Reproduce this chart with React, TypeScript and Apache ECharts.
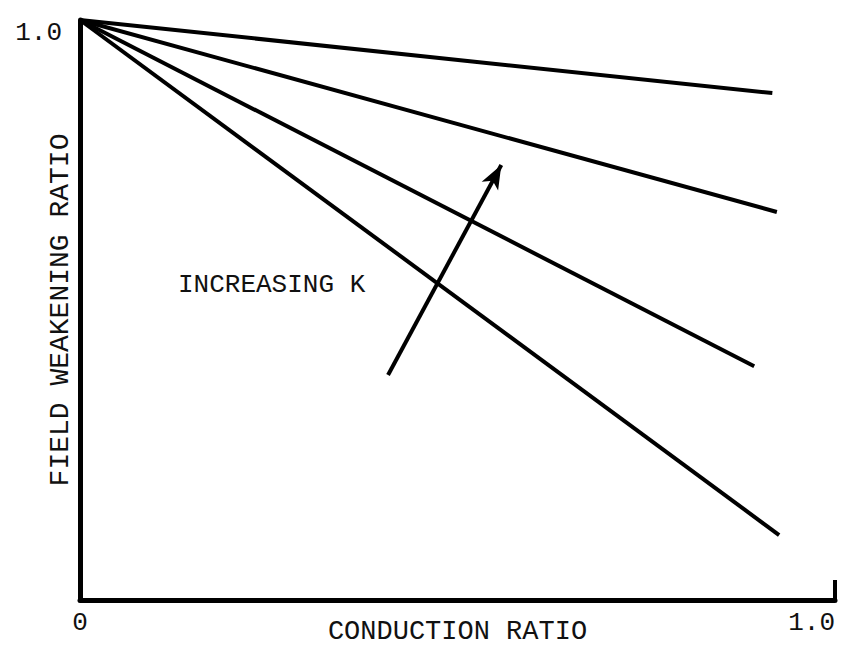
import React, { useEffect, useRef } from "react";
import * as echarts from "echarts";

const xRange = [0, 1];
const yRange = [0, 1];
const xTickLabels = ["0", "1.0"];
const yTickLabels = ["", "1.0"];
const lineStart = [0, 1];
const lineEndsX = [0.917, 0.923, 0.893, 0.926];
const lineEndsY = [0.874, 0.669, 0.403, 0.112];
const arrowFrom = [0.408, 0.388];
const arrowTo = [0.558, 0.75];
const xAxisTitle = "CONDUCTION RATIO";
const yAxisTitle = "FIELD WEAKENING RATIO";
const annotation = "INCREASING K";

const FONT = "'Liberation Mono', 'DejaVu Sans Mono', monospace";

export default function App() {
  const ref = useRef<HTMLDivElement>(null);
  useEffect(() => {
    document.body.style.margin = "0";
    const chart = echarts.init(ref.current!, null, { renderer: "svg" });
    const lineSeries = lineEndsX.map((ex, i) => ({
      type: "line",
      data: [lineStart, [ex, lineEndsY[i]]],
      symbol: "none",
      lineStyle: { color: "#000", width: 4 },
      silent: true,
    }));
    const option: any = {
      animation: false,
      backgroundColor: "#fff",
      grid: { left: 80, right: 15, top: 20, bottom: 56, containLabel: false, outerBoundsMode: "none" },
      xAxis: {
        type: "value",
        min: xRange[0],
        max: xRange[1],
        interval: 1,
        name: xAxisTitle,
        nameLocation: "middle",
        nameGap: 18,
        nameMoveOverlap: false,
        nameTextStyle: { fontFamily: FONT, fontSize: 27, color: "#111" },
        axisLine: { show: true, onZero: false, lineStyle: { color: "#000", width: 5 } },
        axisTick: { show: true, inside: true, length: 20, lineStyle: { color: "#000", width: 4 } },
        splitLine: { show: false },
        axisLabel: {
          fontFamily: FONT,
          fontSize: 26,
          color: "#111",
          margin: 10,
          alignMaxLabel: "right",
          formatter: (v: number) => (v === 0 ? xTickLabels[0] : xTickLabels[1]),
        },
      },
      yAxis: {
        type: "value",
        min: yRange[0],
        max: yRange[1],
        interval: 1,
        name: yAxisTitle,
        nameLocation: "middle",
        nameGap: 6,
        nameMoveOverlap: false,
        nameTextStyle: { fontFamily: FONT, fontSize: 28, color: "#111" },
        axisLine: { show: true, onZero: false, lineStyle: { color: "#000", width: 5 } },
        axisTick: { show: false },
        splitLine: { show: false },
        axisLabel: {
          fontFamily: FONT,
          fontSize: 26,
          color: "#111",
          margin: 18,
          verticalAlignMaxLabel: "top",
          formatter: (v: number) => (v === 0 ? yTickLabels[0] : yTickLabels[1]),
        },
      },
      series: [
        ...lineSeries,
        {
          type: "line",
          data: [],
          symbol: "none",
          markLine: {
            silent: true,
            symbol: ["none", "arrow"],
            symbolSize: [14, 24],
            label: { show: false },
            lineStyle: { color: "#000", width: 4, type: "solid" },
            data: [[{ coord: arrowFrom }, { coord: arrowTo }]],
          },
        },
      ],
      graphic: [
        {
          type: "text",
          left: 178,
          top: 272,
          style: { text: annotation, font: `26px ${FONT}`, fill: "#111" },
        },
      ],
    };
    chart.setOption(option);
    return () => chart.dispose();
  }, []);
  return <div ref={ref} style={{ width: 850, height: 656 }} />;
}
